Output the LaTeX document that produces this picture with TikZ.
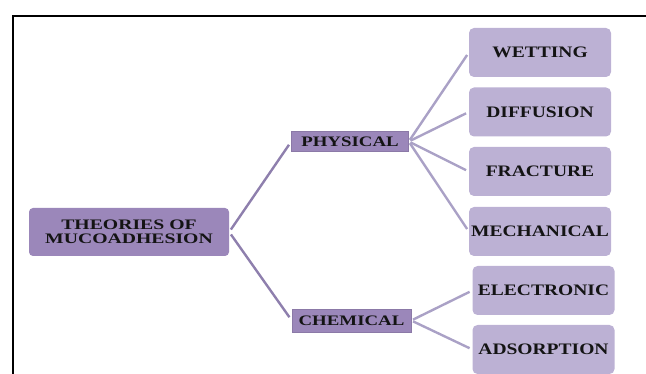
\documentclass[tikz,border=0pt]{standalone}
\usepackage{fontspec}
\setmainfont{Liberation Serif}

% Farben
\definecolor{rootfill}{HTML}{9B87BA}
\definecolor{leaffill}{HTML}{BCB1D4}
\definecolor{rootlink}{HTML}{8E7FAD}
\definecolor{leaflink}{HTML}{AAA1C6}

% breite Schrift
\newcommand{\wide}[2][1.3]{\scalebox{#1}[1]{#2}}

\begin{document}
\begin{tikzpicture}
		[
		x=1pt, y=-1pt, font=\bfseries, text=black!92,
		rootbox/.style={fill=rootfill, rounded corners=4pt, inner sep=0pt, minimum width=200pt, minimum height=48pt, align=center, font=\fontsize{14.5}{14}\selectfont\bfseries},
		midbox/.style={fill=rootfill, draw=rootfill!90!black, line width=0.5pt, inner sep=0pt, minimum width=117pt, minimum height=20pt, font=\fontsize{14.5}{15}\selectfont\bfseries},
		leafbox/.style={fill=leaffill, rounded corners=5pt, inner sep=0pt, minimum width=142pt, minimum height=49pt, font=\fontsize{16}{16}\selectfont\bfseries},
		rootline/.style={rootlink, line width=2.4pt, shorten <=3pt, shorten >=4pt},
		leafline/.style={leaflink, line width=2.4pt, shorten <=2pt, shorten >=3pt}
		]
		
		%Rahmen
		\useasboundingbox (0,0) rectangle (646,374);
		\begin{scope}
		\clip (0,0) rectangle (646,374);
		\draw [line width=2pt] (13,374) -- (13,15.7) -- (646,15.7);
		
		%Wurzel
		\node [rootbox] (theory) at (129,232) {\wide[1.36]{THEORIES OF}\\\wide[1.36]{MUCOADHESION}};
		
		%Zweige
		\node [midbox] (physical) at (350,141.5) {\wide{PHYSICAL}};
		\node [midbox, minimum width=119pt, minimum height=23pt] (chemical) at (351.5,320.5) {\wide{CHEMICAL}};
		
		%Blaetter physikalisch
		\node [leafbox] (wetting) at (540,52.5) {\wide[1.22]{WETTING}};
		\node [leafbox] (diffusion) at (540,112) {\wide[1.22]{DIFFUSION}};
		\node [leafbox] (fracture) at (540,171.5) {\wide[1.22]{FRACTURE}};
		\node [leafbox] (mechanical) at (540,231.5) {\wide[1.22]{MECHANICAL}};
		
		%Blaetter chemisch
		\node [leafbox] (electronic) at (543.5,290.5) {\wide[1.22]{ELECTRONIC}};
		\node [leafbox] (adsorption) at (543.5,349.5) {\wide[1.22]{ADSORPTION}};
		
		%Verbindungen
		\draw [rootline] (theory.east) -- (physical.west);
		\draw [rootline] (theory.east) -- (chemical.west);
		\foreach \leaf in {wetting, diffusion, fracture, mechanical}
		\draw [leafline] (physical.east) -- (\leaf.west);
		\foreach \leaf in {electronic, adsorption}
		\draw [leafline] (chemical.east) -- (\leaf.west);
		\end{scope}
		
	\end{tikzpicture}
\end{document}
